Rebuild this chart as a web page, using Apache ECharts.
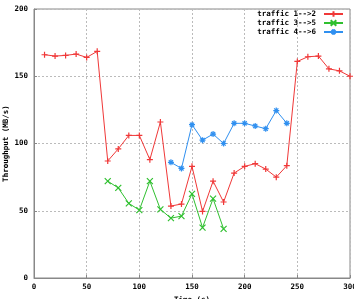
<!DOCTYPE html>
<html lang="en">
<head>
    <meta charset="UTF-8">
    <title>Throughput</title>
    <script type="text/javascript" src="https://cdn.jsdelivr.net/npm/echarts@6/dist/echarts.min.js"></script>
    <style>
        html, body { margin: 0; padding: 0; background: #fff; }
        #chart { width: 354px; height: 299px; }
    </style>
</head>
<body>
<div id="chart"></div>
<script type="text/javascript">
    // data
    var time12 = [10, 20, 30, 40, 50, 60, 70, 80, 90, 100, 110, 120, 130, 140, 150, 160, 170, 180, 190, 200, 210, 220, 230, 240, 250, 260, 270, 280, 290, 300];
    var traffic12 = [166, 165, 165.5, 166.5, 164, 168.5, 87, 96, 106, 106, 88, 116, 53.5, 55, 83, 49.5, 72, 56.5, 78, 83, 85, 81, 75, 83.5, 161, 164.5, 165, 155.5, 154, 150];
    var time35 = [70, 80, 90, 100, 110, 120, 130, 140, 150, 160, 170, 180];
    var traffic35 = [72, 67, 55.5, 50.5, 72, 51, 44.5, 46, 62.5, 37.5, 59, 36.5];
    var time46 = [130, 140, 150, 160, 170, 180, 190, 200, 210, 220, 230, 240];
    var traffic46 = [86, 81.5, 114, 102.5, 107, 100, 115, 115, 113, 111, 124.5, 115];
    var seriesNames = ['traffic 1-->2', 'traffic 3-->5', 'traffic 4-->6'];

    function pairs(xs, ys) {
        return xs.map(function (x, i) { return [x, ys[i]]; });
    }

    var plusPath = 'path://M0,5L10,5M5,0L5,10';
    var crossPath = 'path://M0,0L10,10M10,0L0,10';
    var starPath = 'path://M0,5L10,5M5,0L5,10M1.5,1.5L8.5,8.5M8.5,1.5L1.5,8.5';

    var font = '"DejaVu Sans Mono", monospace';
    var chart = echarts.init(document.getElementById('chart'));

    function makeSeries(name, data, color, symbol) {
        return {
            name: name,
            type: 'line',
            data: data,
            color: color,
            symbol: symbol,
            symbolSize: 6,
            showSymbol: true,
            lineStyle: { width: 1, color: color },
            itemStyle: { color: color, borderColor: color, borderWidth: 1.2 },
            animation: false
        };
    }

    chart.setOption({
        backgroundColor: '#fff',
        grid: {
            left: 34, right: 4, top: 9, bottom: 21,
            outerBoundsMode: 'none',
            containLabel: false,
            show: true, borderColor: '#888', borderWidth: 1
        },
        legend: {
            orient: 'vertical',
            right: 10,
            top: 10,
            padding: 0,
            align: 'right',
            itemGap: 1,
            itemWidth: 19,
            itemHeight: 7,
            data: seriesNames,
            textStyle: { fontFamily: font, fontSize: 7.5, lineHeight: 7, fontWeight: 'bold', color: '#000', padding: [0, 3, 0, 0] }
        },
        xAxis: {
            type: 'value',
            min: 0, max: 300, interval: 50,
            name: 'Time (s)',
            nameLocation: 'middle',
            nameGap: 18,
            nameMoveOverlap: false,
            nameTextStyle: { fontFamily: font, fontSize: 7.5, fontWeight: 'bold', color: '#000' },
            axisLine: { show: true, lineStyle: { color: '#888' } },
            axisTick: { show: true, inside: true, length: 3, lineStyle: { color: '#888' } },
            axisLabel: { fontFamily: font, fontSize: 7.5, fontWeight: 'bold', color: '#000', margin: 5, showMaxLabel: true },
            splitLine: { show: true, lineStyle: { color: '#bbb', type: [2, 2], width: 1 } }
        },
        yAxis: {
            type: 'value',
            min: 0, max: 200, interval: 50,
            name: 'Throughput (MB/s)',
            nameLocation: 'middle',
            nameGap: 24,
            nameMoveOverlap: false,
            nameRotate: 90,
            nameTextStyle: { fontFamily: font, fontSize: 7.5, fontWeight: 'bold', color: '#000' },
            axisLine: { show: true, lineStyle: { color: '#888' } },
            axisTick: { show: true, inside: true, length: 3, lineStyle: { color: '#888' } },
            axisLabel: { fontFamily: font, fontSize: 7.5, fontWeight: 'bold', color: '#000', margin: 6 },
            splitLine: { show: true, lineStyle: { color: '#bbb', type: [2, 2], width: 1 } }
        },
        series: [
            makeSeries(seriesNames[0], pairs(time12, traffic12), '#f03838', plusPath),
            makeSeries(seriesNames[1], pairs(time35, traffic35), '#30c030', crossPath),
            makeSeries(seriesNames[2], pairs(time46, traffic46), '#3090f0', starPath)
        ]
    });
</script>
</body>
</html>
